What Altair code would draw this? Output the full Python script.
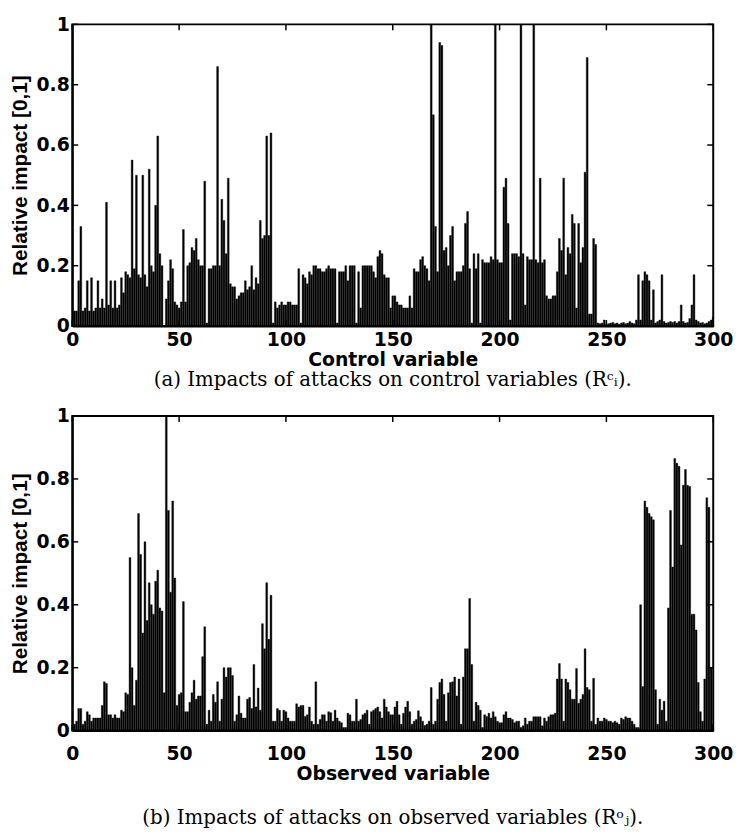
import altair as alt
import pandas as pd

# Relative impact of attacks on control variables (R_i^c), variables 1..300
control_vals = [
    0.05,0.05,0.15,0.33,0.05,0.06,0.15,0.05,0.16,0.05,
    0.06,0.15,0.06,0.09,0.06,0.41,0.07,0.15,0.06,0.15,
    0.06,0.07,0.16,0.11,0.18,0.17,0.16,0.55,0.19,0.50,
    0.17,0.16,0.50,0.17,0.13,0.52,0.20,0.18,0.40,0.63,
    0.24,0.20,0.00,0.09,0.15,0.22,0.19,0.08,0.07,0.06,
    0.08,0.32,0.08,0.20,0.21,0.26,0.25,0.29,0.22,0.20,
    0.20,0.48,0.01,0.19,0.19,0.20,0.20,0.86,0.20,0.42,
    0.35,0.24,0.49,0.14,0.13,0.13,0.09,0.10,0.11,0.11,
    0.15,0.12,0.13,0.20,0.12,0.16,0.14,0.35,0.29,0.30,
    0.63,0.30,0.64,0.01,0.08,0.06,0.07,0.08,0.07,0.07,
    0.08,0.08,0.07,0.07,0.07,0.19,0.01,0.17,0.16,0.14,
    0.18,0.17,0.20,0.20,0.19,0.19,0.18,0.18,0.19,0.20,
    0.19,0.19,0.19,0.01,0.18,0.18,0.18,0.20,0.15,0.20,
    0.20,0.20,0.01,0.18,0.06,0.20,0.20,0.20,0.20,0.20,
    0.18,0.16,0.23,0.25,0.24,0.17,0.16,0.16,0.06,0.10,
    0.10,0.08,0.07,0.07,0.06,0.06,0.06,0.10,0.06,0.19,
    0.18,0.18,0.22,0.23,0.20,0.19,0.15,1.00,0.70,0.33,
    0.18,0.94,0.93,0.25,0.26,0.20,0.30,0.33,0.15,0.18,
    0.18,0.18,0.20,0.34,0.38,0.19,0.01,0.24,0.19,0.24,
    0.01,0.22,0.21,0.21,0.21,0.23,0.22,1.00,0.22,0.21,
    0.21,0.46,0.49,0.34,0.02,0.24,0.24,0.24,0.23,1.00,
    0.24,0.07,0.23,0.22,0.22,1.00,0.22,0.21,0.49,0.21,
    0.22,0.10,0.09,0.09,0.10,0.10,0.18,0.29,0.25,0.49,
    0.17,0.26,0.24,0.37,0.34,0.06,0.34,0.21,0.26,0.51,
    0.89,0.04,0.04,0.29,0.27,0.01,0.008,0.01,0.02,0.006,
    0.008,0.01,0.012,0.008,0.01,0.006,0.01,0.012,0.008,0.01,
    0.015,0.01,0.008,0.02,0.17,0.02,0.15,0.18,0.17,0.15,
    0.02,0.12,0.01,0.015,0.02,0.17,0.015,0.01,0.012,0.015,
    0.012,0.015,0.01,0.015,0.07,0.015,0.01,0.012,0.025,0.07,
    0.17,0.02,0.015,0.01,0.012,0.008,0.01,0.015,0.02,0.03,
]

# Relative impact of attacks on observed variables (R_j^o), variables 1..300
observed_vals = [
    0.02,0.03,0.07,0.07,0.02,0.03,0.06,0.05,0.03,0.04,
    0.04,0.04,0.04,0.08,0.155,0.15,0.05,0.05,0.04,0.05,
    0.04,0.04,0.065,0.06,0.12,0.115,0.55,0.20,0.08,0.16,
    0.69,0.56,0.31,0.60,0.35,0.47,0.40,0.37,0.475,0.51,
    0.39,0.38,0.12,1.00,0.70,0.44,0.73,0.485,0.08,0.115,
    0.12,0.41,0.06,0.06,0.09,0.12,0.16,0.10,0.11,0.11,
    0.235,0.33,0.02,0.065,0.03,0.115,0.09,0.155,0.03,0.10,
    0.20,0.17,0.20,0.20,0.175,0.03,0.05,0.11,0.055,0.04,
    0.04,0.10,0.105,0.07,0.21,0.075,0.135,0.065,0.34,0.26,
    0.47,0.29,0.43,0.03,0.03,0.07,0.065,0.03,0.065,0.06,
    0.04,0.03,0.03,0.03,0.085,0.075,0.08,0.08,0.045,0.05,
    0.075,0.03,0.02,0.155,0.02,0.035,0.05,0.05,0.03,0.06,
    0.057,0.03,0.065,0.04,0.03,0.025,0.01,0.01,0.055,0.05,
    0.03,0.03,0.10,0.03,0.035,0.05,0.055,0.065,0.02,0.06,
    0.065,0.07,0.075,0.06,0.04,0.10,0.075,0.06,0.05,0.05,
    0.075,0.093,0.05,0.02,0.055,0.075,0.093,0.06,0.02,0.03,
    0.035,0.063,0.044,0.03,0.016,0.02,0.03,0.137,0.02,0.03,
    0.10,0.153,0.164,0.115,0.03,0.12,0.153,0.155,0.17,0.11,
    0.164,0.02,0.17,0.26,0.26,0.42,0.21,0.03,0.09,0.08,
    0.065,0.01,0.05,0.045,0.055,0.04,0.06,0.044,0.03,0.025,
    0.025,0.05,0.06,0.04,0.04,0.035,0.025,0.03,0.03,0.01,
    0.015,0.04,0.02,0.03,0.03,0.044,0.044,0.044,0.044,0.015,
    0.04,0.03,0.044,0.05,0.05,0.055,0.164,0.213,0.164,0.03,
    0.164,0.153,0.13,0.10,0.10,0.197,0.087,0.10,0.115,0.26,
    0.137,0.13,0.03,0.166,0.02,0.04,0.03,0.03,0.04,0.035,
    0.03,0.03,0.025,0.03,0.025,0.02,0.04,0.035,0.044,0.04,
    0.04,0.03,0.02,0.01,0.01,0.40,0.14,0.73,0.71,0.69,
    0.68,0.67,0.13,0.02,0.10,0.065,0.093,0.03,0.39,0.70,
    0.52,0.865,0.85,0.84,0.59,0.78,0.83,0.78,0.776,0.37,
    0.37,0.32,0.153,0.06,0.03,0.164,0.74,0.71,0.20,0.02,
]

x_ticks = [0, 50, 100, 150, 200, 250, 300]
y_ticks = [0, 0.2, 0.4, 0.6, 0.8, 1]

y_title = "Relative impact [0,1]"
x_title_a = "Control variable"
x_title_b = "Observed variable"
caption_a = "(a) Impacts of attacks on control variables (Rᶜᵢ)."
caption_b = "(b) Impacts of attacks on observed variables (Rᵒⱼ)."

assert len(control_vals) == 300 and len(observed_vals) == 300

W = 648
WIDE = "DejaVu Sans, Verdana, sans-serif"
SANS = "Liberation Sans, Arial, sans-serif"
TICK = 6

xscale = alt.Scale(domain=[0, 300], nice=False, zero=False, padding=0)
yscale = alt.Scale(domain=[0, 1], nice=False, padding=0)


def panel(vals, xtitle, caption, H, label_pad, cap_offset):
    df = pd.DataFrame({"i": list(range(1, 301)), "v": vals})
    df["x0"] = df["i"] - 0.42
    df["x1"] = df["i"] + 0.42
    xaxis = alt.Axis(values=x_ticks, title=xtitle, ticks=False, labelFlush=False,
                     labelPadding=label_pad, titlePadding=1, grid=False,
                     labelFont=WIDE, titleFont=WIDE, labelFontSize=19,
                     titleFontSize=19)
    yaxis = alt.Axis(values=y_ticks, format="~g", title=y_title, labelFlush=False,
                     ticks=False, labelPadding=3, titlePadding=6, grid=False,
                     labelFont=WIDE, titleFont=SANS, labelFontSize=19,
                     titleFontSize=21)
    bars = alt.Chart(df).mark_bar(color="black", stroke="black",
                                  strokeWidth=0.4, clip=True).encode(
        x=alt.X("x0:Q", scale=xscale, axis=xaxis),
        x2="x1:Q",
        y=alt.Y("v:Q", scale=yscale, axis=yaxis),
        y2=alt.datum(0),
    )
    xt = pd.DataFrame({"t": x_ticks})
    yt = pd.DataFrame({"t": y_ticks})
    bx = alt.Chart(xt).mark_rule(color="black", strokeWidth=1.5).encode(
        x=alt.X("t:Q", scale=xscale, axis=xaxis),
        y=alt.value(H), y2=alt.value(H - TICK))
    tx = alt.Chart(xt).mark_rule(color="black", strokeWidth=1.5).encode(
        x=alt.X("t:Q", scale=xscale, axis=xaxis),
        y=alt.value(0), y2=alt.value(TICK))
    ly = alt.Chart(yt).mark_rule(color="black", strokeWidth=1.5).encode(
        y=alt.Y("t:Q", scale=yscale, axis=yaxis),
        x=alt.value(0), x2=alt.value(TICK))
    ry = alt.Chart(yt).mark_rule(color="black", strokeWidth=1.5).encode(
        y=alt.Y("t:Q", scale=yscale, axis=yaxis),
        x=alt.value(W), x2=alt.value(W - TICK))
    return alt.layer(bars, bx, tx, ly, ry).properties(
        width=W, height=H,
        title=alt.TitleParams(text=caption, orient="bottom", anchor="middle",
                              font="DejaVu Serif", fontSize=20,
                              fontWeight="normal", color="black",
                              offset=cap_offset),
    )


chart = alt.vconcat(
    panel(control_vals, x_title_a, caption_a, 305, 5, 1),
    panel(observed_vals, x_title_b, caption_b, 318, 14, 25),
    spacing=15,
).properties(padding={"left": 0, "right": 0, "top": 2, "bottom": 0}).configure_view(
    stroke="black", strokeWidth=2
).configure_axis(
    domainColor="black", domainWidth=2,
    labelFontWeight="bold", labelColor="black",
    titleFontWeight="bold", titleColor="black",
)

chart.save("out.html", embed_options={"renderer": "svg", "actions": False})
